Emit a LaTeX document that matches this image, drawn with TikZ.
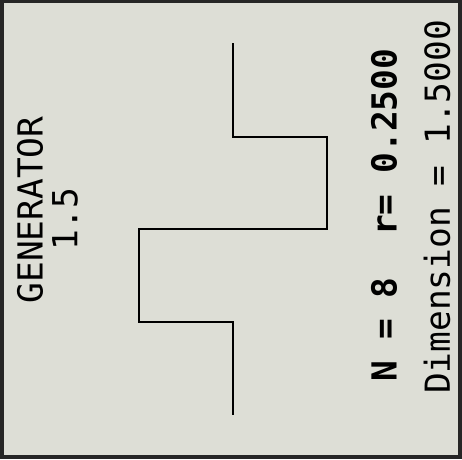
\documentclass[tikz,border=0pt]{standalone}
\usepackage{fontspec}
\newfontfamily\plotfont{DejaVu Sans Mono}
\definecolor{paper}{RGB}{221,222,214}

\begin{document}
\begin{tikzpicture}[
  x=1pt, y=-1pt,
  label/.style={rotate=90, inner sep=0pt, font=\plotfont\fontsize{34.5}{36}\selectfont},
  curve/.style={line width=1.5pt, line join=miter},
]
% --- frame ---
\fill[black!85] (0,0) rectangle (462,459);
\fill[paper] (4,3) rectangle (458,455);
\useasboundingbox (0,0) rectangle (462,459);
% --- title (left) ---
\node[label] (gen) at (30,210) {GENERATOR};
\node[label] (genval) at (65,219) {1.5};
% --- generator curve ---
\draw[curve] (233,43) -- (233,137) -- (327,137) -- (327,229)
  -- (139,229) -- (139,322) -- (233,322) -- (233,415);
% --- values (right) ---
\node[label, font=\plotfont\bfseries\fontsize{34.5}{36}\selectfont] (nline) at (384,215) {N = 8~ r= 0.2500};
\node[label] (dimline) at (437,207) {Dimension = 1.5000};
\end{tikzpicture}
\end{document}
